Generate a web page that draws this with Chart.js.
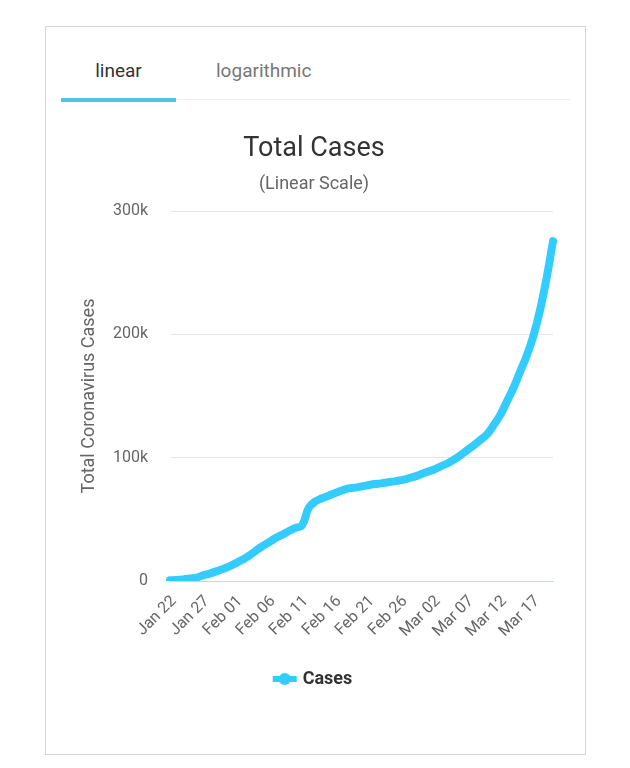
<!DOCTYPE html>
<html lang="en">
<head>
    <meta charset="UTF-8">
    <title>Total Cases</title>
    <script src="https://cdn.jsdelivr.net/npm/chart.js"></script>
    <style>
        body {
            margin: 0;
            background: #fff;
            font-family: 'Roboto', sans-serif;
        }
        .card {
            position: absolute;
            left: 45px;
            top: 26px;
            width: 539px;
            height: 727px;
            border: 1px solid #d4d4d4;
        }
        .tabs {
            position: absolute;
            left: 15px;
            top: 30px;
            width: 509px;
            height: 42px;
            border-bottom: 1px solid #eeeeee;
        }
        .tab {
            position: absolute;
            top: 0;
            font-size: 19px;
            line-height: 28px;
        }
        .tab.active {
            left: 0;
            width: 115px;
            text-align: center;
            color: #333;
            border-bottom: 4px solid #4ec5ea;
            box-sizing: border-box;
            height: 45px;
        }
        .tab.other {
            left: 155px;
            color: #777;
        }
        .chart-box {
            position: absolute;
            left: 15px;
            top: 105px;
            width: 515px;
            height: 566px;
        }
    </style>
</head>
<body>
    <div class="card">
        <div class="tabs">
            <div class="tab active">linear</div>
            <div class="tab other">logarithmic</div>
        </div>
        <div class="chart-box">
            <canvas id="casesChart"></canvas>
        </div>
    </div>

    <script>
        // Dates Jan 22 .. Mar 20
        const dates = [
            'Jan 22', 'Jan 23', 'Jan 24', 'Jan 25', 'Jan 26', 'Jan 27', 'Jan 28', 'Jan 29', 'Jan 30', 'Jan 31',
            'Feb 01', 'Feb 02', 'Feb 03', 'Feb 04', 'Feb 05', 'Feb 06', 'Feb 07', 'Feb 08', 'Feb 09', 'Feb 10',
            'Feb 11', 'Feb 12', 'Feb 13', 'Feb 14', 'Feb 15', 'Feb 16', 'Feb 17', 'Feb 18', 'Feb 19', 'Feb 20',
            'Feb 21', 'Feb 22', 'Feb 23', 'Feb 24', 'Feb 25', 'Feb 26', 'Feb 27', 'Feb 28', 'Feb 29', 'Mar 01',
            'Mar 02', 'Mar 03', 'Mar 04', 'Mar 05', 'Mar 06', 'Mar 07', 'Mar 08', 'Mar 09', 'Mar 10', 'Mar 11',
            'Mar 12', 'Mar 13', 'Mar 14', 'Mar 15', 'Mar 16', 'Mar 17', 'Mar 18', 'Mar 19', 'Mar 20'
        ];

        // Total cases
        const totalCases = [
            580, 845, 1317, 2015, 2800, 4581, 6058, 7813, 9823, 11950,
            14553, 17391, 20630, 24545, 28266, 31439, 34876, 37552, 40553, 43099,
            45134, 59287, 64438, 67100, 69197, 71329, 73332, 75184, 75700, 76677,
            77673, 78651, 79205, 80087, 80828, 81820, 83112, 84615, 86604, 88585,
            90443, 93016, 95314, 98425, 102050, 106099, 109991, 114381, 118948, 126214,
            134509, 145416, 156475, 169511, 182393, 198159, 218744, 244902, 275550
        ];

        const yTicks = [0, 100000, 200000, 300000];

        const lineColor = '#33ccff';

        // legend symbol: thick line with a dot in the middle
        const legendMark = document.createElement('canvas');
        legendMark.width = 26;
        legendMark.height = 14;
        (function () {
            const c = legendMark.getContext('2d');
            c.fillStyle = lineColor;
            c.fillRect(1, 4, 24, 6);
            c.beginPath();
            c.arc(13, 7, 6, 0, Math.PI * 2);
            c.fill();
        })();

        new Chart(document.getElementById('casesChart'), {
            type: 'line',
            data: {
                labels: dates,
                datasets: [{
                    label: 'Cases',
                    data: totalCases,
                    borderColor: lineColor,
                    backgroundColor: lineColor,
                    borderWidth: 8,
                    borderCapStyle: 'round',
                    borderJoinStyle: 'round',
                    pointRadius: 0,
                    pointHoverRadius: 0,
                    pointStyle: legendMark,
                    tension: 0.4,
                    fill: false
                }]
            },
            options: {
                responsive: true,
                maintainAspectRatio: false,
                animation: false,
                layout: {
                    padding: { left: 14, right: 23, top: 0, bottom: 0 }
                },
                plugins: {
                    title: {
                        display: true,
                        text: 'Total Cases',
                        color: '#333',
                        font: { family: 'Roboto', size: 27, weight: 'normal' },
                        padding: { top: 1, bottom: 8 }
                    },
                    subtitle: {
                        display: true,
                        text: '(Linear Scale)',
                        color: '#666',
                        font: { family: 'Roboto', size: 18 },
                        padding: { top: 0, bottom: 16 }
                    },
                    legend: {
                        position: 'bottom',
                        labels: {
                            usePointStyle: true,
                            color: '#333',
                            padding: 26,
                            font: { family: 'Roboto', size: 18, weight: 'bold' }
                        }
                    },
                    tooltip: { enabled: false }
                },
                scales: {
                    x: {
                        grid: { display: false },
                        border: { color: '#ccd6eb' },
                        ticks: {
                            autoSkip: false,
                            maxRotation: 45,
                            minRotation: 45,
                            labelOffset: 4,
                            color: '#666',
                            font: { family: 'Roboto', size: 16 },
                            callback: function (val, i) {
                                return i % 5 === 0 ? dates[i] : '';
                            }
                        }
                    },
                    y: {
                        min: yTicks[0],
                        max: yTicks[yTicks.length - 1],
                        afterBuildTicks: function (axis) {
                            axis.ticks = yTicks.map(v => ({ value: v }));
                        },
                        afterFit: function (axis) {
                            axis.width = 95;
                        },
                        border: { display: false },
                        grid: {
                            color: ctx => ctx.tick && ctx.tick.value === 0 ? '#ccd6eb' : '#e6e6e6',
                            drawTicks: false
                        },
                        ticks: {
                            color: '#666',
                            padding: 22,
                            font: { family: 'Roboto', size: 16 },
                            callback: v => v === 0 ? '0' : (v / 1000) + 'k'
                        },
                        title: {
                            display: true,
                            text: 'Total Coronavirus Cases',
                            color: '#666',
                            font: { family: 'Roboto', size: 18 },
                            padding: { top: 4, bottom: 12 }
                        }
                    }
                }
            }
        });
    </script>
</body>
</html>
